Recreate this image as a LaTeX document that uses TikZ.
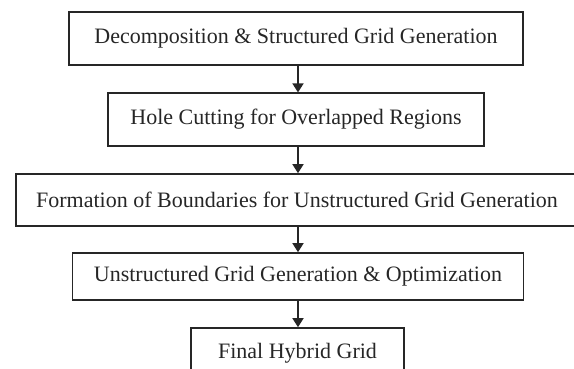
\documentclass[tikz,border=0pt]{standalone}
\usepackage{fontspec}
\setmainfont{Liberation Serif}
\usetikzlibrary{arrows.meta}
\begin{document}
\begin{tikzpicture}[x=1pt,y=-1pt,
  stepbox/.style={draw=black!85,line width=1.6pt,inner sep=0pt,font=\fontsize{22}{25}\selectfont,text=black!85},
  arr/.style={draw=black!85,line width=1.6pt,-{Triangle[length=9pt,width=11pt]}}]
\useasboundingbox (0,0) rectangle (574,369);
\clip (0,0) rectangle (574,369);
\node[stepbox,minimum width=454pt,minimum height=53pt] (b1) at (296,38.5) {Decomposition \& Structured Grid Generation};
\node[stepbox,minimum width=376pt,minimum height=52.5pt] (b2) at (296,119.5) {Hole Cutting for Overlapped Regions};
\node[stepbox,minimum width=562pt,minimum height=52pt] (b3) at (297,200) {Formation of Boundaries for Unstructured Grid Generation};
\node[stepbox,minimum width=451pt,minimum height=47pt] (b4) at (298,276.5) {Unstructured Grid Generation \& Optimization};
\node[stepbox,minimum width=213pt,minimum height=50pt] (b5) at (297.5,353) {Final Hybrid Grid};
\draw[arr] (b1.south -| 298,0) -- (b2.north -| 298,0);
\draw[arr] (b2.south -| 298,0) -- (b3.north -| 298,0);
\draw[arr] (b3.south -| 298,0) -- (b4.north -| 298,0);
\draw[arr] (b4.south -| 298,0) -- (b5.north -| 298,0);
\end{tikzpicture}
\end{document}
